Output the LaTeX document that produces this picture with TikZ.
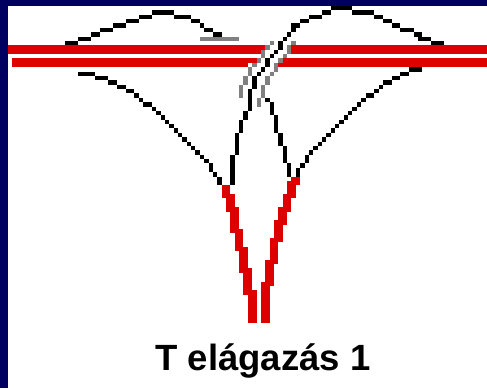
\documentclass[tikz,border=0pt]{standalone}
\usepackage{fontspec}
\setmainfont{Liberation Sans}
\definecolor{navy}{RGB}{0,0,96}
\definecolor{barred}{RGB}{221,0,0}
\definecolor{lead}{RGB}{128,128,128}
\tikzset{
  blackstep/.style={fill=black},
  graystep/.style={fill=lead},
  redstep/.style={fill=barred}
}
\begin{document}
\begin{tikzpicture}[x=1pt,y=-1pt]
\useasboundingbox (0,0) rectangle (487,388);
\fill[white] (0,0) rectangle (487,388);
\fill[navy] (0,0) rectangle (487,6);
\fill[navy] (0,0) rectangle (8,388);
% red bars
\foreach \a/\b/\c/\d in {8/45/265/50, 8/50/261/54, 12/58/257/63, 12/63/248/67, 291/45/487/54, 283/58/487/63, 278/63/487/67}
  \fill[redstep] (\a,\b) rectangle (\c,\d);
% gray strands
\foreach \a/\b/\c/\d in {200/37/239/41,
  239/85/243/98, 243/76/248/85, 248/67/252/76, 252/63/257/67, 257/58/261/63, 261/50/265/58, 265/45/270/50, 270/41/274/45,
  257/98/261/107, 261/85/265/98, 265/76/270/85, 270/72/274/76, 274/63/278/72, 278/58/283/63, 283/54/287/58, 287/45/291/54, 291/41/296/45}
  \fill[graystep] (\a,\b) rectangle (\c,\d);
% black curves
\foreach \a/\b/\c/\d in {65/41/78/45, 78/37/91/41, 91/32/100/37, 100/28/113/32, 113/23/126/28, 126/19/139/23, 139/15/152/19, 152/10/174/15, 174/15/191/19, 191/19/200/23, 200/23/204/28, 204/28/213/32, 213/32/222/37,
  78/72/95/76, 95/76/108/80, 108/80/117/85, 117/85/126/89, 126/89/134/93, 134/93/139/98, 139/98/143/102, 143/102/152/107, 152/107/156/111, 156/111/161/115, 161/115/165/120, 165/120/169/124, 169/124/174/128, 174/128/178/133, 178/133/182/137, 182/137/187/142, 187/142/191/146, 191/146/195/150, 195/150/200/155, 200/155/204/159, 204/159/209/163, 209/163/213/172, 213/172/217/177, 217/177/222/185,
  230/155/235/185, 235/133/239/155, 239/120/243/133, 243/111/248/120, 248/89/252/111, 252/76/257/89, 257/72/261/76, 261/67/265/72, 265/58/270/67, 270/54/274/58, 274/50/278/54, 278/41/283/50, 283/37/287/41, 287/32/291/37, 291/28/296/32, 291/23/300/28, 300/19/309/23, 309/15/322/19, 322/10/331/15, 331/6/352/10, 352/10/374/15, 374/15/383/19, 383/19/392/23, 392/23/400/28, 400/28/414/32, 414/32/422/37, 418/37/431/41, 431/41/444/45,
  265/98/270/102, 270/102/274/115, 274/115/278/133, 278/133/283/146, 283/146/287/163, 287/163/291/177,
  296/168/300/177, 300/163/305/168, 305/155/309/163, 309/150/313/155, 313/146/318/150, 318/142/322/146, 322/137/326/142, 326/133/331/137, 331/128/335/133, 335/124/339/128, 339/120/344/124, 344/115/348/120, 348/111/352/115, 352/107/357/111, 357/102/361/107, 361/98/366/102, 366/93/374/98, 374/89/379/93, 379/85/383/89, 383/80/392/85, 392/76/400/80, 400/72/409/76, 409/67/422/72}
  \fill[blackstep] (\a,\b) rectangle (\c,\d);
% red legs
\foreach \a/\b/\c/\d in {222/185/230/198, 226/194/235/212, 230/207/239/233, 235/229/243/251, 239/247/248/273, 243/268/252/295, 248/290/257/323,
  261/282/270/323, 265/260/274/286, 270/238/278/264, 274/220/283/242, 278/207/287/225, 283/194/291/212, 287/181/296/198, 291/177/300/185}
  \fill[redstep] (\a,\b) rectangle (\c,\d);
% title
\node[anchor=base,font=\bfseries\fontsize{36.5}{36.5}\selectfont,inner sep=0pt] (title) at (263,370) {T elágazás 1};
\end{tikzpicture}
\end{document}
